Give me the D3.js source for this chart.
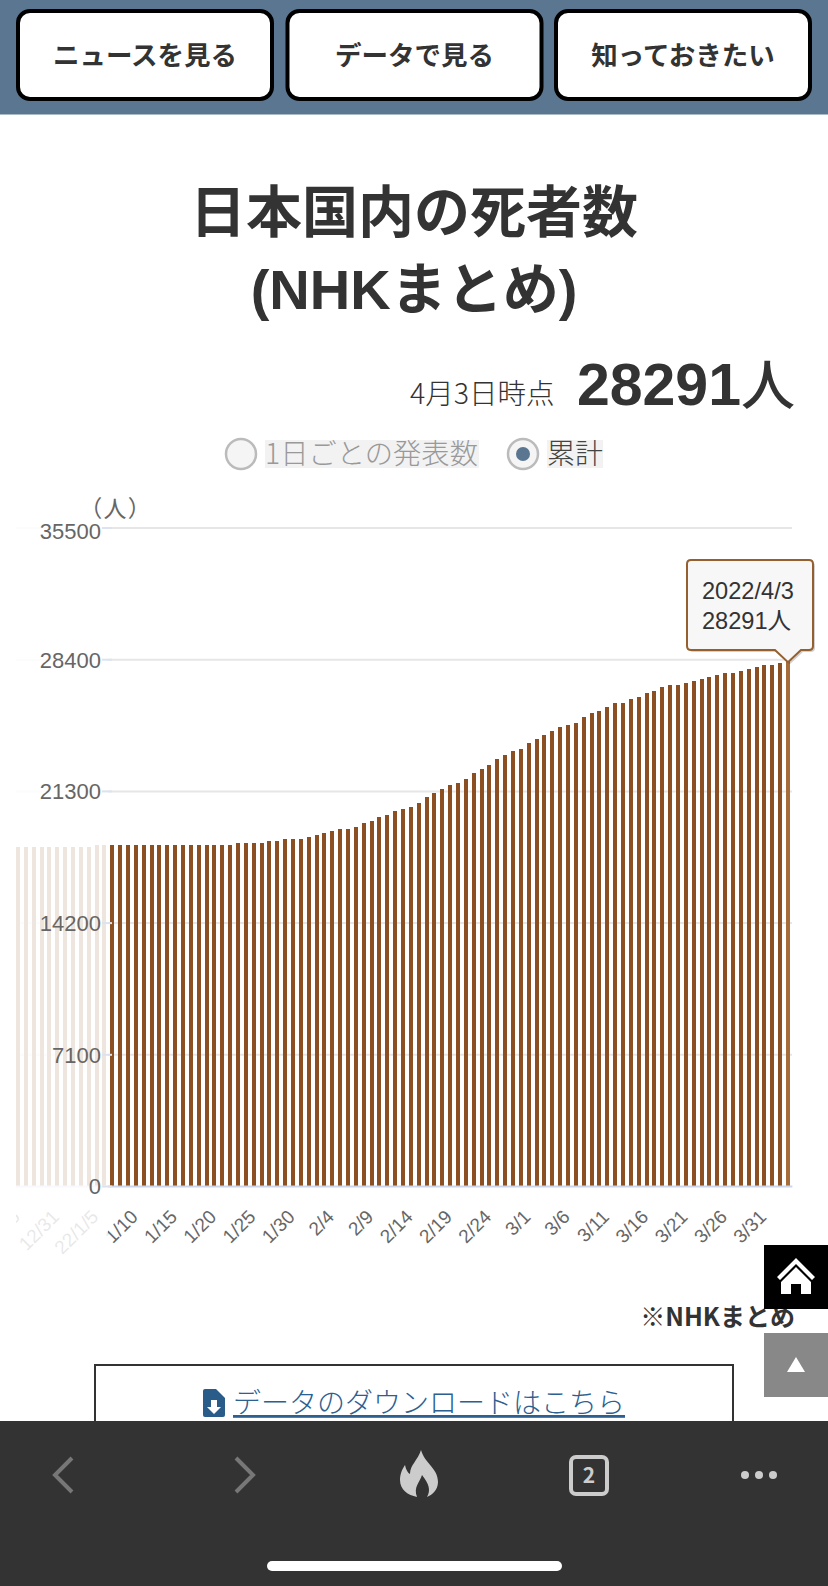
<!DOCTYPE html>
<html lang="ja">
<head>
<meta charset="utf-8">
<title>日本国内の死者数</title>
<script src="https://cdn.jsdelivr.net/npm/d3@7"></script>
<style>
    html, body { margin: 0; padding: 0; background: #fff; }
    svg { display: block; }
    text { font-family: "Noto Sans CJK JP", sans-serif; }
    .chartText text, text.chartText, text.title, .latin { font-family: "Liberation Sans", "Noto Sans CJK JP", sans-serif; }
</style>
</head>
<body>
<svg id="page" width="828" height="1586"></svg>
<script>
// dates on the x axis, one per bar
var dates = [
    "12/26", "12/27", "12/28", "12/29", "12/30", "12/31",
    "1/1", "1/2", "1/3", "1/4", "22/1/5", "1/6", "1/7", "1/8", "1/9", "1/10",
    "1/11", "1/12", "1/13", "1/14", "1/15", "1/16", "1/17", "1/18", "1/19", "1/20",
    "1/21", "1/22", "1/23", "1/24", "1/25", "1/26", "1/27", "1/28", "1/29", "1/30", "1/31",
    "2/1", "2/2", "2/3", "2/4", "2/5", "2/6", "2/7", "2/8", "2/9", "2/10",
    "2/11", "2/12", "2/13", "2/14", "2/15", "2/16", "2/17", "2/18", "2/19", "2/20",
    "2/21", "2/22", "2/23", "2/24", "2/25", "2/26", "2/27", "2/28",
    "3/1", "3/2", "3/3", "3/4", "3/5", "3/6", "3/7", "3/8", "3/9", "3/10",
    "3/11", "3/12", "3/13", "3/14", "3/15", "3/16", "3/17", "3/18", "3/19", "3/20",
    "3/21", "3/22", "3/23", "3/24", "3/25", "3/26", "3/27", "3/28", "3/29", "3/30", "3/31",
    "4/1", "4/2", "4/3"
];

// cumulative deaths
var deaths = [
    18275, 18275, 18275, 18275, 18275, 18275,
    18275, 18275, 18275, 18275, 18383, 18383, 18383, 18383, 18383, 18383,
    18383, 18383, 18383, 18383, 18383, 18383, 18383, 18383, 18383, 18383,
    18383, 18383, 18491, 18491, 18491, 18491, 18599, 18599, 18707, 18707, 18707,
    18815, 18922, 19030, 19138, 19246, 19246, 19354, 19569, 19677,
    19893, 20001, 20216, 20324, 20432, 20648, 20971, 21187, 21402, 21618,
    21726, 21941, 22265, 22480, 22696, 23020, 23235, 23451,
    23559, 23882, 24098, 24313, 24529, 24745, 24853, 24960, 25284, 25499,
    25607, 25823, 26039, 26039, 26254, 26362, 26578, 26685, 26901, 27009,
    27009, 27117, 27225, 27332, 27440, 27548, 27656, 27656, 27764, 27871, 27979,
    28087, 28087, 28195, 28291
];

var xTicks = [
    "12/26", "12/31", "22/1/5", "1/10", "1/15", "1/20", "1/25", "1/30", "2/4", "2/9", "2/14",
    "2/19", "2/24", "3/1", "3/6", "3/11", "3/16", "3/21", "3/26", "3/31"
];
var yTicks = [0, 7100, 14200, 21300, 28400, 35500];

var buttonLabels = ["ニュースを見る", "データで見る", "知っておきたい"];
var tooltipLines = ["2022/4/3", "28291人"];

var brown = "#8b4f22";
var svg = d3.select("#page");

// Scales
var xScale = d3.scaleBand()
    .domain(dates)
    .range([14.1, 791.9])
    .paddingInner(0.49)
    .paddingOuter(0.245);
var yScale = d3.scaleLinear().domain([0, 35500]).range([1186, 527.5]);

// clip is in the axis group's own coordinates
svg.append("clipPath").attr("id", "labelClip")
    .append("rect").attr("x", 16).attr("y", -6).attr("width", 800).attr("height", 110);

// Grid lines
svg.append("g")
    .attr("transform", "translate(16,0)")
    .call(d3.axisLeft(yScale).tickValues(yTicks.slice(1)).tickSize(-776).tickFormat(""))
    .call(function (g) { g.select(".domain").remove(); })
    .selectAll("line")
    .attr("stroke", "#e6e6e6")
    .attr("stroke-width", 2);

// Bars
svg.append("g")
    .attr("shape-rendering", "crispEdges")
    .selectAll("rect")
    .data(dates)
    .enter()
    .append("rect")
    .attr("x", function (d) { return xScale(d); })
    .attr("y", function (d, i) { return yScale(deaths[i]); })
    .attr("width", xScale.bandwidth())
    .attr("height", function (d, i) { return yScale(0) - yScale(deaths[i]); })
    .attr("fill", function (d) { return d === "4/3" ? "#a66c3c" : brown; });

// X axis
var xAxis = svg.append("g")
    .attr("class", "chartText")
    .attr("clip-path", "url(#labelClip)")
    .attr("transform", "translate(0,1186)")
    .call(d3.axisBottom(xScale).tickValues(xTicks).tickSize(0));
xAxis.select(".domain").attr("stroke", "#ccd6eb").attr("stroke-width", 2);
xAxis.selectAll("text")
    .attr("x", 0)
    .attr("y", 0)
    .attr("dy", 0)
    .attr("transform", "translate(3,32)rotate(-45)")
    .style("text-anchor", "end")
    .style("font-size", "19px")
    .style("fill", "#666");

// white layer that fades the scrolled part of the chart
svg.append("rect")
    .attr("x", 0).attr("y", 500)
    .attr("width", 108).attr("height", 790)
    .attr("fill", "#fff")
    .attr("opacity", 0.85);

// Y axis, on top of the fade
var yAxis = svg.append("g")
    .attr("class", "chartText")
    .attr("transform", "translate(112,0)")
    .call(d3.axisLeft(yScale).tickValues(yTicks).tickSize(10).tickPadding(1).tickFormat(d3.format("d")));
yAxis.select(".domain").remove();
yAxis.selectAll("line").attr("stroke", "#dde3ee").attr("stroke-width", 2);
yAxis.selectAll("text")
    .attr("dy", function (d) { return d === 35500 ? "0.5em" : "0.36em"; })
    .style("font-size", "22px")
    .style("fill", "#666");

svg.append("text")
    .attr("x", 116).attr("y", 517)
    .attr("text-anchor", "middle")
    .style("font-size", "23px")
    .style("letter-spacing", "2px")
    .style("font-feature-settings", '"palt"')
    .style("fill", "#666")
    .text("（人）");

// Tooltip
var tipX = xScale("4/3") + xScale.bandwidth() / 2,
    tipY = yScale(28291);
var tipPath = "M691,560 H809 Q813,560 813,564 V646 Q813,650 809,650 H" + (tipX + 13) +
    " L" + tipX + "," + (tipY + 1) + " L" + (tipX - 13) + ",650 H691 Q687,650 687,646 V564 Q687,560 691,560 Z";
svg.append("path").attr("d", tipPath)
    .attr("transform", "translate(2,2)")
    .attr("fill", "#000").attr("opacity", 0.18);
svg.append("path").attr("d", tipPath)
    .attr("fill", "#f7f7f7")
    .attr("stroke", "#94602f")
    .attr("stroke-width", 2);
svg.selectAll("text.tip")
    .data(tooltipLines)
    .enter()
    .append("text")
    .attr("class", "tip chartText")
    .attr("x", 702)
    .attr("y", function (d, i) { return 599 + i * 30; })
    .style("font-size", "23.6px")
    .style("fill", "#333")
    .text(function (d) { return d; });

// Title
svg.selectAll("text.title")
    .data(["日本国内の死者数", "(NHKまとめ)"])
    .enter()
    .append("text")
    .attr("class", "title")
    .attr("x", 414)
    .attr("y", function (d, i) { return 232 + i * 77; })
    .attr("text-anchor", "middle")
    .style("font-size", "56px")
    .style("font-weight", 700)
    .style("fill", "#333")
    .text(function (d) { return d; });

svg.append("text")
    .attr("x", 410).attr("y", 404)
    .style("font-size", "28.5px")
    .style("font-weight", 300)
    .style("fill", "#333")
    .text("4月3日時点");
var total = svg.append("text")
    .attr("x", 795).attr("y", 405)
    .attr("text-anchor", "end")
    .style("fill", "#333");
total.append("tspan")
    .attr("class", "latin")
    .style("font-size", "59px")
    .style("font-weight", 700)
    .text("28291");
total.append("tspan")
    .style("font-size", "54px")
    .style("font-weight", 500)
    .text("人");

// Radio buttons
svg.append("rect").attr("x", 265).attr("y", 440).attr("width", 214).attr("height", 28).attr("fill", "#f2f2f2");
svg.append("rect").attr("x", 547).attr("y", 440).attr("width", 56).attr("height", 28).attr("fill", "#f2f2f2");
[241, 523].forEach(function (cx) {
    svg.append("circle").attr("cx", cx).attr("cy", 454).attr("r", 15)
        .attr("fill", "#f5f5f5").attr("stroke", "#bbb").attr("stroke-width", 2.5);
});
svg.append("circle").attr("cx", 523).attr("cy", 454).attr("r", 7).attr("fill", "#5a7690");
svg.append("text").attr("x", 265).attr("y", 464)
    .style("font-size", "28.3px").style("font-weight", 300).style("fill", "#999").text("1日ごとの発表数");
svg.append("text").attr("x", 547).attr("y", 464)
    .style("font-size", "28px").style("font-weight", 300).style("fill", "#444").text("累計");

// Note and download box
svg.append("text")
    .attr("x", 795).attr("y", 1326)
    .attr("text-anchor", "end")
    .style("font-size", "25px")
    .style("font-weight", 700)
    .style("fill", "#333")
    .text("※NHKまとめ");

svg.append("rect")
    .attr("x", 95).attr("y", 1365)
    .attr("width", 638).attr("height", 80)
    .attr("fill", "#fff")
    .attr("stroke", "#333")
    .attr("stroke-width", 2);
svg.append("path")
    .attr("d", "M205,1389 H216 L225,1398 V1415 Q225,1417 223,1417 H205 Q203,1417 203,1415 V1391 Q203,1389 205,1389 Z")
    .attr("fill", "#2a5c8a");
svg.append("path")
    .attr("d", "M211,1400 H217 V1407 H221 L214,1414 L207,1407 H211 Z")
    .attr("fill", "#fff");
svg.append("text")
    .attr("x", 233).attr("y", 1413)
    .style("font-size", "28px")
    .style("font-weight", 300)
    .style("fill", "#2c6090")
    .style("text-decoration", "underline")
    .text("データのダウンロードはこちら");

// Side buttons
svg.append("rect").attr("x", 764).attr("y", 1245).attr("width", 64).attr("height", 64).attr("fill", "#000");
svg.append("path")
    .attr("d", "M777,1277 L796,1258 L815,1277 L812,1280 L796,1264 L780,1280 Z M781,1282 L796,1267 L811,1282 V1294 H801 V1284 H791 V1294 H781 Z")
    .attr("fill", "#fff");
svg.append("rect").attr("x", 764).attr("y", 1333).attr("width", 64).attr("height", 64).attr("fill", "#888");
svg.append("path").attr("d", "M796,1357 L805,1372 H787 Z").attr("fill", "#fff");

// Header
svg.append("rect").attr("x", 0).attr("y", 0).attr("width", 828).attr("height", 114.5).attr("fill", "#5a7690");
var buttons = svg.selectAll("g.button")
    .data(buttonLabels)
    .enter()
    .append("g")
    .attr("class", "button")
    .attr("transform", function (d, i) { return "translate(" + [18, 287.5, 556][i] + ",11)"; });
buttons.append("rect")
    .attr("width", 254).attr("height", 88).attr("rx", 12)
    .attr("fill", "#fff").attr("stroke", "#000").attr("stroke-width", 4);
buttons.append("text")
    .attr("x", 127).attr("y", 54)
    .attr("text-anchor", "middle")
    .style("font-size", "26.5px")
    .style("font-weight", 700)
    .style("fill", "#333")
    .text(function (d) { return d; });

// Browser bar
svg.append("rect").attr("x", 0).attr("y", 1421).attr("width", 828).attr("height", 165).attr("fill", "#333");
svg.append("path").attr("d", "M72,1458 L55,1475 L72,1492 M236,1458 L253,1475 L236,1492")
    .attr("fill", "none").attr("stroke", "#777").attr("stroke-width", 4);
svg.append("path")
    .attr("d", "M421,1450 C425,1464 438,1468 438,1482 C438,1490 432,1495 427,1497 C431,1490 429,1484 422,1475 C420,1482 413,1487 417,1497 C408,1495 400,1490 400,1480 C400,1473 403,1468 405,1465 C406,1470 408,1473 410,1474 C410,1465 418,1460 421,1450 Z")
    .attr("fill", "#ccc");
svg.append("rect").attr("x", 571).attr("y", 1457).attr("width", 36).attr("height", 37).attr("rx", 5)
    .attr("fill", "none").attr("stroke", "#ccc").attr("stroke-width", 4);
svg.append("text").attr("x", 589).attr("y", 1483)
    .attr("text-anchor", "middle")
    .style("font-size", "21px").style("font-weight", 700).style("fill", "#ccc").text("2");
[745, 759, 773].forEach(function (cx) {
    svg.append("circle").attr("cx", cx).attr("cy", 1475).attr("r", 4).attr("fill", "#ccc");
});
svg.append("rect").attr("x", 267).attr("y", 1561).attr("width", 295).attr("height", 10).attr("rx", 5).attr("fill", "#fff");
</script>
</body>
</html>
